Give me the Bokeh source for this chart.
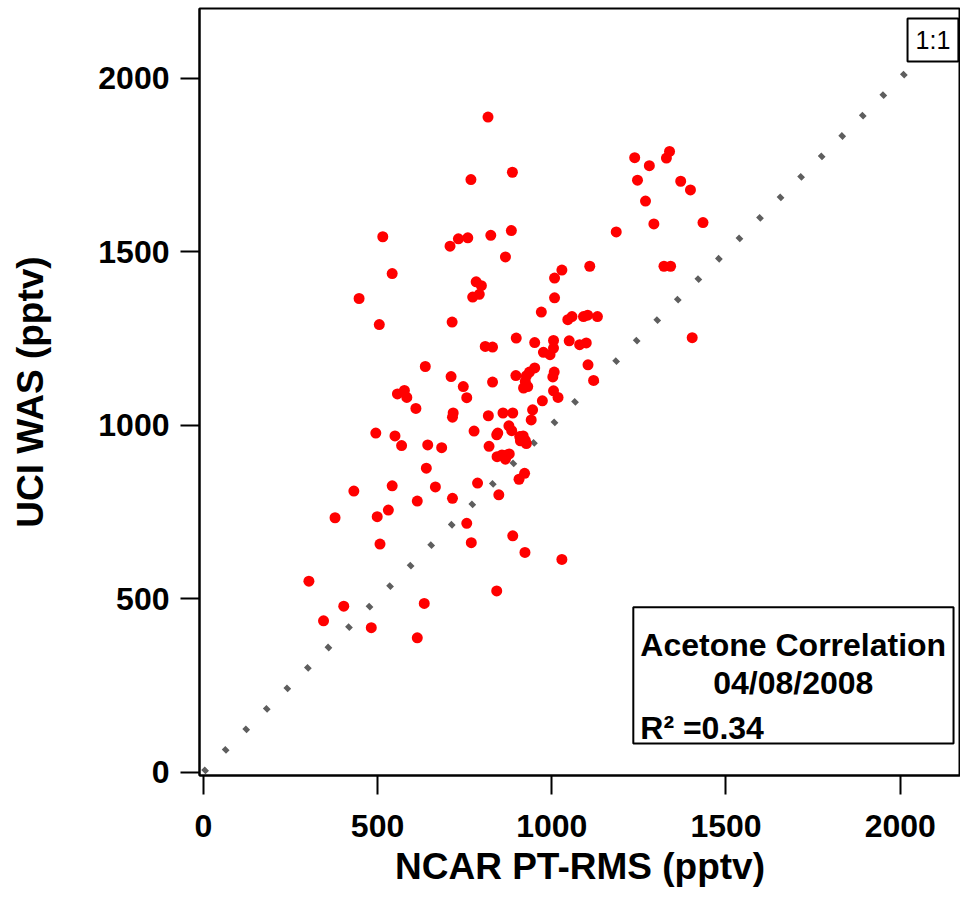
from bokeh.plotting import figure
from bokeh.models import Range1d, FixedTicker, Label, BoxAnnotation
from bokeh.embed import file_html
from bokeh.resources import INLINE

# NCAR PT-RMS (x) vs UCI WAS (y), pptv
ncar = [817, 887, 768, 515, 732, 708, 759, 825, 884, 867,
        542, 447, 505, 714, 783, 798, 773, 792, 898, 809,
        830, 1238, 1280, 1338, 1329, 1246, 1370, 1398, 1269, 1293,
        1434, 1185, 1109, 1322, 1341, 1029, 1008, 1008, 970, 1058,
        1046, 1091, 1103, 1131, 1403, 951, 1005, 1050, 1080, 1099,
        1005, 995, 976, 1104, 1120, 951, 936, 1007, 1003, 931,
        927, 924, 919, 1005, 1018, 973, 945, 941, 1029, 923,
        637, 711, 746, 756, 830, 897, 557, 577, 584, 610,
        717, 715, 818, 860, 888, 495, 550, 569, 644, 684,
        777, 842, 845, 820, 877, 885, 843, 857, 871, 878,
        867, 908, 918, 924, 910, 927, 640, 787, 906, 922,
        432, 542, 666, 614, 715, 848, 531, 499, 378, 756,
        507, 769, 888, 303, 842, 403, 634, 345, 482, 614]
uci = [1888, 1729, 1708, 1543, 1537, 1516, 1540, 1547, 1561, 1485,
       1437, 1365, 1290, 1297, 1413, 1402, 1369, 1377, 1251, 1227,
       1225, 1771, 1748, 1789, 1770, 1706, 1703, 1678, 1646, 1580,
       1584, 1557, 1458, 1458, 1458, 1447, 1424, 1367, 1326, 1313,
       1304, 1313, 1317, 1313, 1252, 1238, 1244, 1243, 1232, 1237,
       1222, 1203, 1210, 1174, 1129, 1165, 1153, 1153, 1139, 1111,
       1142, 1126, 1107, 1099, 1080, 1070, 1044, 1015, 613, 633,
       1169, 1140, 1111, 1079, 1124, 1143, 1090, 1100, 1080, 1048,
       1035, 1023, 1027, 1035, 1035, 977, 969, 941, 943, 935,
       983, 972, 977, 939, 998, 984, 909, 914, 914, 917,
       902, 967, 969, 956, 955, 947, 876, 833, 844, 861,
       810, 825, 822, 781, 789, 799, 755, 736, 733, 717,
       657, 661, 681, 550, 522, 478, 486, 436, 416, 387]

one_to_one = [0, 2200]
ticks = [0, 500, 1000, 1500, 2000]

title_line1 = "Acetone Correlation"
title_line2 = "04/08/2008"
r2_text = "R\u00b2 =0.34"

FONT = "Liberation Sans"

p = figure(width=960, height=900, output_backend="svg", toolbar_location=None,
           x_range=Range1d(-11, 2173), y_range=Range1d(-10, 2201),
           min_border_left=199, min_border_right=0, min_border_top=8,
           min_border_bottom=125)
p.background_fill_color = "white"
p.border_fill_color = "white"
p.outline_line_color = "black"
p.outline_line_width = 2
p.grid.visible = False

p.line(one_to_one, one_to_one, line_color="#5e5e5e", line_width=6, line_dash="5 24")
p.scatter(ncar, uci, size=11, marker="circle", fill_color="#ff0000", line_color=None)

for ax in (p.xaxis[0], p.yaxis[0]):
    ax.ticker = FixedTicker(ticks=ticks)
    ax.axis_line_width = 2
    ax.axis_line_color = "black"
    ax.major_tick_line_width = 2
    ax.major_tick_line_color = "black"
    ax.major_tick_out = 19
    ax.major_tick_in = 0
    ax.minor_tick_line_color = None
    ax.major_label_text_font = FONT
    ax.major_label_text_font_style = "bold"
    ax.major_label_text_font_size = "32px"
    ax.major_label_text_color = "black"
    ax.axis_label_text_font = FONT
    ax.axis_label_text_font_style = "bold"
    ax.axis_label_text_font_size = "37px"
    ax.axis_label_text_color = "black"

p.xaxis.axis_label = "NCAR PT-RMS (pptv)"
p.yaxis.axis_label = "UCI WAS (pptv)"
p.xaxis.major_label_standoff = 20
p.yaxis.major_label_standoff = 11
p.xaxis.axis_label_standoff = 6
p.yaxis.axis_label_standoff = 44

# 1:1 tag
p.add_layout(BoxAnnotation(left=2021, right=2167, bottom=2048, top=2172,
                           fill_color="white", fill_alpha=1.0,
                           line_color="black", line_alpha=1.0, line_width=2))
p.add_layout(Label(x=2094, y=2110, text="1:1", text_align="center",
                   text_baseline="middle", text_font=FONT,
                   text_font_size="25px", text_color="black"))

# info box
p.add_layout(BoxAnnotation(left=1234, right=2153, bottom=82, top=475,
                           fill_color="white", fill_alpha=1.0,
                           line_color="black", line_alpha=1.0, line_width=2))
p.add_layout(Label(x=1693, y=365, text=title_line1, text_align="center",
                   text_baseline="alphabetic", text_font=FONT, text_font_style="bold",
                   text_font_size="32px", text_color="black"))
p.add_layout(Label(x=1693, y=258, text=title_line2, text_align="center",
                   text_baseline="alphabetic", text_font=FONT, text_font_style="bold",
                   text_font_size="32px", text_color="black"))
p.add_layout(Label(x=1254, y=126, text=r2_text, text_align="left",
                   text_baseline="alphabetic", text_font=FONT, text_font_style="bold",
                   text_font_size="32px", text_color="black"))

open("out.html", "w").write(file_html(p, INLINE))
